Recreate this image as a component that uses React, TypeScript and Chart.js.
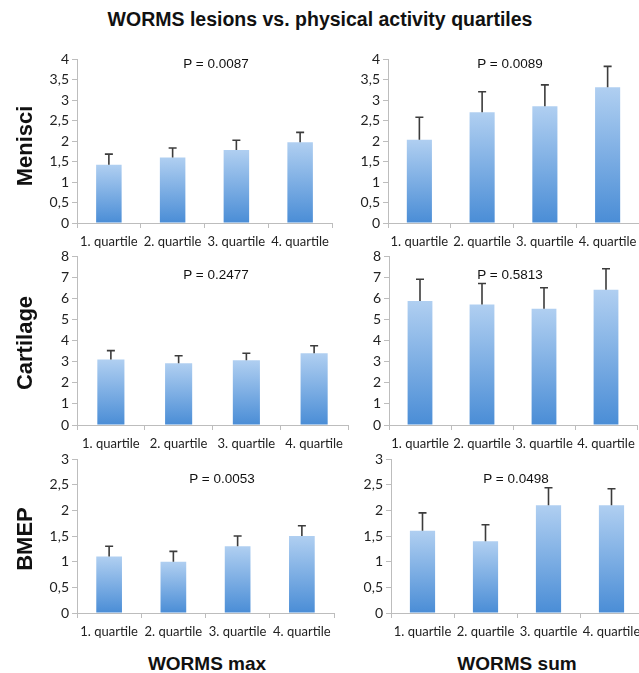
import React, { useEffect, useRef } from "react";
import { Chart, registerables } from "chart.js";

Chart.register(...registerables);

// ---------- data ----------
const categories = ["1. quartile", "2. quartile", "3. quartile", "4. quartile"];

const menisciMax = [1.42, 1.6, 1.78, 1.97];
const menisciMaxSD = [0.26, 0.23, 0.24, 0.24];
const menisciSum = [2.03, 2.7, 2.85, 3.31];
const menisciSumSD = [0.55, 0.5, 0.52, 0.51];

const cartilageMax = [3.1, 2.92, 3.07, 3.4];
const cartilageMaxSD = [0.42, 0.36, 0.33, 0.35];
const cartilageSum = [5.87, 5.7, 5.5, 6.4];
const cartilageSumSD = [1.03, 1.0, 1.0, 1.0];

const bmepMax = [1.1, 1.0, 1.3, 1.5];
const bmepMaxSD = [0.2, 0.2, 0.2, 0.2];
const bmepSum = [1.6, 1.4, 2.1, 2.1];
const bmepSumSD = [0.35, 0.32, 0.34, 0.32];

const pValues = ["P = 0.0087", "P = 0.0089", "P = 0.2477", "P = 0.5813", "P = 0.0053", "P = 0.0498"];
const rowLabels = ["Menisci", "Cartilage", "BMEP"];
const colLabels = ["WORMS max", "WORMS sum"];
const titleText = "WORMS lesions vs. physical activity quartiles";
const yMaxes = [4, 4, 8, 8, 3, 3];
const ySteps = [0.5, 0.5, 1, 1, 0.5, 0.5];

// ---------- layout ----------
type Rect = { left: number; top: number; right: number; bottom: number };
const panelRects: Rect[] = [
  { left: 77, top: 59, right: 332, bottom: 223 },
  { left: 388, top: 59, right: 639, bottom: 223 },
  { left: 77, top: 256, right: 348, bottom: 425 },
  { left: 389, top: 256, right: 637, bottom: 425 },
  { left: 77, top: 459, right: 334, bottom: 613 },
  { left: 391, top: 459, right: 643, bottom: 613 },
];

const PAD_L = 45;
const PAD_T = 12;
const PAD_R = 12;
const PAD_B = 34;

const errorBarPlugin = {
  id: "errbars",
  afterDatasetsDraw(chart: any, _args: any, opts: any) {
    const { ctx } = chart;
    const meta = chart.getDatasetMeta(0);
    const data = chart.data.datasets[0].data as number[];
    const errs: number[] = opts.errors || [];
    ctx.save();
    ctx.strokeStyle = "#3c3c3c";
    ctx.lineWidth = 1.6;
    meta.data.forEach((bar: any, i: number) => {
      const yTop = chart.scales.y.getPixelForValue(data[i] + errs[i]);
      const x = bar.x;
      ctx.beginPath();
      ctx.moveTo(x, bar.y);
      ctx.lineTo(x, yTop);
      ctx.moveTo(x - 4, yTop);
      ctx.lineTo(x + 4, yTop);
      ctx.stroke();
    });
    ctx.restore();
  },
};

function Panel({ rect, values, errors, yMax, yStep }: { rect: Rect; values: number[]; errors: number[]; yMax: number; yStep: number }) {
  const ref = useRef<HTMLCanvasElement | null>(null);
  const w = rect.right - rect.left + PAD_L + PAD_R;
  const h = rect.bottom - rect.top + PAD_T + PAD_B;
  useEffect(() => {
    if (!ref.current) return;
    const chart = new Chart(ref.current, {
      type: "bar",
      data: {
        labels: categories,
        datasets: [
          {
            data: values,
            categoryPercentage: 1,
            barPercentage: 0.4,
            backgroundColor: (c: any) => {
              const chartObj = c.chart;
              const ys = chartObj.scales && chartObj.scales.y;
              if (!ys || c.dataIndex === undefined || c.type !== "data") return "#7aaae6";
              const v = values[c.dataIndex];
              const top = ys.getPixelForValue(v);
              const base = ys.getPixelForValue(0);
              if (!isFinite(top) || !isFinite(base) || top === base) return "#7aaae6";
              const g = chartObj.ctx.createLinearGradient(0, top, 0, base);
              g.addColorStop(0, "#b0cff1");
              g.addColorStop(1, "#4a8dd6");
              return g;
            },
            borderWidth: 0,
          },
        ],
      },
      options: {
        responsive: false,
        animation: false,
        devicePixelRatio: 1,
        events: [],
        layout: { padding: { left: 0, top: PAD_T, right: PAD_R, bottom: 0 } },
        plugins: {
          legend: { display: false },
          tooltip: { enabled: false },
          // @ts-ignore
          errbars: { errors },
        },
        scales: {
          x: {
            afterFit: (s: any) => {
              s.height = PAD_B;
            },
            grid: { drawOnChartArea: false, tickLength: 5, color: "#bdbdbd", offset: true },
            border: { color: "#bdbdbd" },
            ticks: { padding: 6, color: "#222", font: { family: "Lato", size: 13 }, maxRotation: 0, autoSkip: false },
          },
          y: {
            min: 0,
            max: yMax,
            afterFit: (s: any) => {
              s.width = PAD_L;
            },
            grid: { drawOnChartArea: false, tickLength: 5, color: "#bdbdbd" },
            border: { color: "#bdbdbd" },
            ticks: {
              stepSize: yStep,
              padding: 3,
              color: "#222",
              font: { family: "Lato", size: 14 },
              callback: (v: any) => String(v).replace(".", ","),
            },
          },
        },
      },
      plugins: [errorBarPlugin],
    } as any);
    return () => chart.destroy();
  }, []);
  return (
    <canvas
      ref={ref}
      width={w}
      height={h}
      style={{ position: "absolute", left: rect.left - PAD_L, top: rect.top - PAD_T, width: w, height: h, display: "block" }}
    />
  );
}

const textBase: React.CSSProperties = {
  position: "absolute",
  whiteSpace: "nowrap",
  fontFamily: "'Liberation Sans', Arial, sans-serif",
  color: "#111",
  lineHeight: 1,
};

function Label({ x, y, text, size, bold, rotate }: { x: number; y: number; text: string; size: number; bold?: boolean; rotate?: boolean }) {
  return (
    <div
      style={{
        ...textBase,
        left: x,
        top: y,
        fontSize: size,
        fontWeight: bold ? 700 : 400,
        transform: `translate(-50%, -50%)${rotate ? " rotate(-90deg)" : ""}`,
      }}
    >
      {text}
    </div>
  );
}

export default function App() {
  const series = [
    [menisciMax, menisciMaxSD],
    [menisciSum, menisciSumSD],
    [cartilageMax, cartilageMaxSD],
    [cartilageSum, cartilageSumSD],
    [bmepMax, bmepMaxSD],
    [bmepSum, bmepSumSD],
  ];
  const pPos = [
    [216, 64],
    [510, 64],
    [216, 275],
    [510, 275],
    [222, 479],
    [516, 479],
  ];
  return (
    <div style={{ position: "absolute", left: 0, top: 0, width: 639, height: 673, overflow: "hidden", background: "#fff" }}>
      <Label x={320} y={20} text={titleText} size={19.5} bold />
      {series.map((s, i) => (
        <Panel key={i} rect={panelRects[i]} values={s[0]} errors={s[1]} yMax={yMaxes[i]} yStep={ySteps[i]} />
      ))}
      {pValues.map((p, i) => (
        <Label key={"p" + i} x={pPos[i][0]} y={pPos[i][1]} text={p} size={13.5} />
      ))}
      <Label x={25} y={146} text={rowLabels[0]} size={22} bold rotate />
      <Label x={25} y={343} text={rowLabels[1]} size={22} bold rotate />
      <Label x={25} y={539} text={rowLabels[2]} size={22} bold rotate />
      <Label x={207} y={663} text={colLabels[0]} size={19} bold />
      <Label x={517} y={663} text={colLabels[1]} size={19} bold />
    </div>
  );
}
